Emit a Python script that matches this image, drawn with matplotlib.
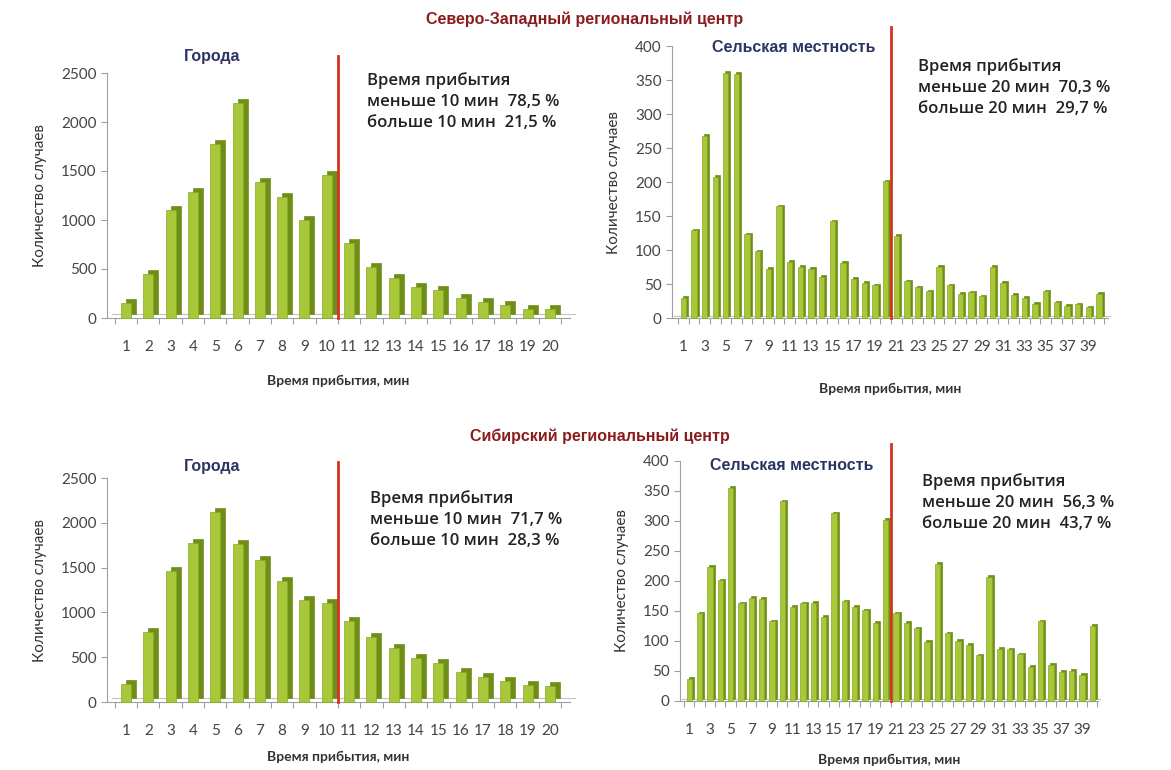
import numpy as np
import matplotlib
matplotlib.use("Agg")
import matplotlib.pyplot as plt
from matplotlib.transforms import offset_copy

plt.rcParams['font.family'] = ['Lato', 'DejaVu Sans']

# ------------------------------------------------------------
# data
# ------------------------------------------------------------
urban_minutes = np.arange(1, 21)
rural_minutes = np.arange(1, 41)

nw_urban = [150, 450, 1100, 1290, 1780, 2190, 1390, 1230, 1000, 1460,
            770, 520, 410, 320, 290, 200, 160, 130, 90, 90]
nw_rural = [30, 129, 268, 208, 361, 359, 123, 98, 72, 164,
            83, 75, 72, 61, 142, 81, 58, 52, 48, 201,
            121, 54, 45, 39, 75, 48, 36, 38, 32, 75,
            52, 34, 30, 21, 39, 23, 18, 20, 16, 36]
sib_urban = [200, 780, 1460, 1770, 2120, 1760, 1580, 1350, 1140, 1110,
             900, 730, 600, 490, 440, 330, 280, 230, 190, 180]
sib_rural = [37, 146, 224, 201, 355, 163, 172, 170, 133, 333,
             157, 163, 164, 140, 313, 166, 157, 151, 130, 302,
             146, 130, 121, 99, 229, 113, 100, 94, 76, 207,
             87, 86, 78, 57, 133, 60, 49, 50, 44, 125]

nw_urban_text = "Время прибытия\nменьше 10 мин  78,5 %\nбольше 10 мин  21,5 %"
nw_rural_text = "Время прибытия\nменьше 20 мин  70,3 %\nбольше 20 мин  29,7 %"
sib_urban_text = "Время прибытия\nменьше 10 мин  71,7 %\nбольше 10 мин  28,3 %"
sib_rural_text = "Время прибытия\nменьше 20 мин  56,3 %\nбольше 20 мин  43,7 %"

W, H = 1171, 770
FRONT = "#a8c83a"
SIDE = "#6f8e18"
EDGE = "#88a828"
AXCOL = "#a0a0a0"
TITLE_RED = "#8b1c1c"
NAVY = "#2b3563"
TXT = "#222222"
NARROW = ['Liberation Sans Narrow', 'Liberation Sans', 'DejaVu Sans']


def px_rect(x0, x1, y_top, y_bot):
    return [x0 / W, 1 - y_bot / H, (x1 - x0) / W, (y_bot - y_top) / H]


def draw_panel(ax, x, y, ymax, ystep, cut, xlim, odd_labels, width, depth, xlab_pad):
    # back (side) face, shifted a few pixels up and right
    back = offset_copy(ax.transData, fig=ax.figure, x=depth, y=depth * 0.8,
                       units='dots')
    ax.bar(x, y, width=width, color=SIDE, edgecolor=SIDE, linewidth=0.5,
           transform=back, zorder=2, clip_on=False)
    ax.bar(x, y, width=width, color=FRONT, edgecolor=EDGE, linewidth=0.5,
           zorder=3, clip_on=False)
    # back edge of the floor
    ax.plot(xlim, [0, 0], color="#c4c4c4", lw=0.8, transform=back, zorder=1,
            clip_on=False)

    ax.set_xlim(*xlim)
    ax.set_ylim(0, ymax)
    ax.set_yticks(np.arange(0, ymax + 1, ystep))
    ax.tick_params(axis='y', colors=AXCOL, labelcolor="#444444",
                   labelsize=11, length=4, width=0.8)

    # category boundaries as ticks, labels under the bars
    ax.set_xticks(np.arange(x[0] - 0.5, x[-1] + 1, 1.0))
    ax.set_xticklabels([])
    ax.tick_params(axis='x', which='major', colors=AXCOL, length=4, width=0.8)
    if odd_labels:
        lab_pos = x[::2]
    else:
        lab_pos = x
    ax.set_xticks(lab_pos, minor=True)
    ax.set_xticklabels([str(v) for v in lab_pos], minor=True)
    ax.tick_params(axis='x', which='minor', length=0, labelsize=11,
                   labelcolor="#444444", pad=16)

    for s in ['top', 'right']:
        ax.spines[s].set_visible(False)
    ax.spines['left'].set_color(AXCOL)
    ax.spines['bottom'].set_color(AXCOL)

    # cut-off line
    ax.plot([cut, cut], [0, ymax * 1.07], color="#d4341f", lw=2.0,
            zorder=5, clip_on=False)

    ax.set_ylabel("Количество случаев", fontsize=11, color="#333333",
                  labelpad=10)
    ax.set_xlabel("Время прибытия, мин", fontsize=10, color="#333333",
                  fontweight='bold', labelpad=xlab_pad)


fig = plt.figure(figsize=(W / 100, H / 100), dpi=100)

ax1 = fig.add_axes(px_rect(107, 570, 73, 318))
ax2 = fig.add_axes(px_rect(672, 1108, 46, 318))
ax3 = fig.add_axes(px_rect(107, 570, 478, 702))
ax4 = fig.add_axes(px_rect(680, 1098, 461, 701))

draw_panel(ax1, urban_minutes, nw_urban, 2500, 500, 10.5, (0.15, 20.9), False, 0.45, 5, 15)
draw_panel(ax2, rural_minutes, nw_rural, 400, 50, 20.5, (-0.05, 40.85), True, 0.5, 2, 21)
draw_panel(ax3, urban_minutes, sib_urban, 2500, 500, 10.5, (0.15, 20.9), False, 0.45, 5, 9)
draw_panel(ax4, rural_minutes, sib_rural, 400, 50, 20.5, (0.1, 40.55), True, 0.5, 2, 12)

# titles
fig.text(585 / W, 1 - 19 / H, "Северо-Западный региональный центр",
         ha='center', va='center', color=TITLE_RED, fontsize=11.5,
         fontweight='bold', family=NARROW)
fig.text(600 / W, 1 - 436 / H, "Сибирский региональный центр",
         ha='center', va='center', color=TITLE_RED, fontsize=11.5,
         fontweight='bold', family=NARROW)

for (cx, cy), label in [((212, 57), "Города"), ((794, 48), "Сельская местность"),
                        ((212, 467), "Города"), ((792, 465), "Сельская местность")]:
    fig.text(cx / W, 1 - cy / H, label, ha='center', va='center', color=NAVY,
             fontsize=11.5, fontweight='bold', family=NARROW)

for (tx, ty), txt in [((367, 72), nw_urban_text), ((918, 58), nw_rural_text),
                      ((370, 490), sib_urban_text), ((922, 473), sib_rural_text)]:
    fig.text(tx / W, 1 - ty / H, txt, ha='left', va='top', color=TXT,
             fontsize=12, linespacing=1.42, fontweight='semibold',
             family=['Open Sans', 'DejaVu Sans'])

fig.savefig("out.png", dpi=100)
